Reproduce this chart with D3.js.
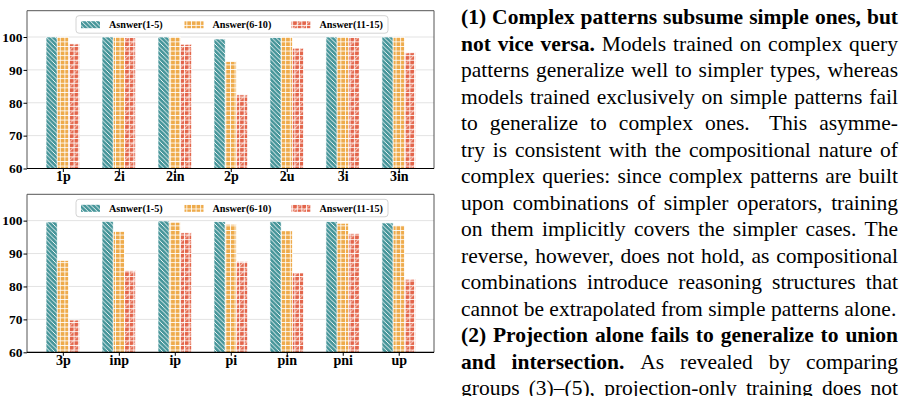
<!DOCTYPE html>
<html>
<head>
<meta charset="utf-8">
<script src="https://cdn.jsdelivr.net/npm/d3@7"></script>
<style>
  body { margin: 0; background: #fff; }
  svg { display: block; }
</style>
</head>
<body>
<div id="chart-area"></div>
<script>
// Figure size
var width = 908,
	height = 396;

// Data
var seriesNames = ["Asnwer(1-5)", "Answer(6-10)", "Answer(11-15)"];
var topCategories = ["1p", "2i", "2in", "2p", "2u", "3i", "3in"];
var topAns1 = [100, 100, 100, 99.4, 99.8, 100, 100];
var topAns2 = [100, 100, 100, 92.5, 100, 100, 100];
var topAns3 = [97.9, 99.8, 97.8, 82.4, 96.6, 99.8, 95.2];
var bottomCategories = ["3p", "inp", "ip", "pi", "pin", "pni", "up"];
var bottomAns1 = [99.6, 99.8, 99.9, 99.7, 99.8, 99.7, 99.3];
var bottomAns2 = [87.9, 96.7, 99.5, 98.9, 96.9, 99.2, 98.5];
var bottomAns3 = [69.8, 84.8, 96.3, 87.6, 84.1, 96.1, 82.2];
var yTicks = [60, 70, 80, 90, 100];

// Paragraph text on the right, one entry per printed line
var textLines = [
	[{t: "(1) Complex patterns subsume simple ones, but", b: true}],
	[{t: "not vice versa.", b: true}, {t: "Models trained on complex query", b: false}],
	[{t: "patterns generalize well to simpler types, whereas", b: false}],
	[{t: "models trained exclusively on simple patterns fail", b: false}],
	[{t: "to generalize to complex ones.  This asymme-", b: false}],
	[{t: "try is consistent with the compositional nature of", b: false}],
	[{t: "complex queries: since complex patterns are built", b: false}],
	[{t: "upon combinations of simpler operators, training", b: false}],
	[{t: "on them implicitly covers the simpler cases. The", b: false}],
	[{t: "reverse, however, does not hold, as compositional", b: false}],
	[{t: "combinations introduce reasoning structures that", b: false}],
	[{t: "cannot be extrapolated from simple patterns alone.", b: false, last: true}],
	[{t: "(2) Projection alone fails to generalize to union", b: true}],
	[{t: "and intersection.", b: true}, {t: "As revealed by comparing", b: false}],
	[{t: "groups (3)\u2013(5), projection-only training does not", b: false}]
];

var colors = ["#47969a", "#eeab4c", "#e3654b"];
var serif = "'Liberation Serif', 'Times New Roman', serif";

var svg = d3.select("#chart-area").append("svg")
	.attr("width", width)
	.attr("height", height);

// hatch patterns
var defs = svg.append("defs");

var p0 = defs.append("pattern").attr("id", "hatch0")
	.attr("patternUnits", "userSpaceOnUse").attr("width", 4.5).attr("height", 4.5);
p0.append("rect").attr("width", 4.5).attr("height", 4.5).attr("fill", colors[0]);
p0.append("path").attr("d", "M0,0L4.5,4.5M-1,3.5L1,5.5M3.5,-1L5.5,1")
	.attr("stroke", "#fff").attr("stroke-width", 0.9);

var p1 = defs.append("pattern").attr("id", "hatch1")
	.attr("patternUnits", "userSpaceOnUse").attr("width", 4.6).attr("height", 4.6);
p1.append("rect").attr("width", 4.6).attr("height", 4.6).attr("fill", colors[1]);
p1.append("path").attr("d", "M0.4,0V4.6M0,0.4H4.6")
	.attr("stroke", "#fff").attr("stroke-width", 0.9);

var p2 = defs.append("pattern").attr("id", "hatch2")
	.attr("patternUnits", "userSpaceOnUse").attr("width", 9.2).attr("height", 9.2);
p2.append("rect").attr("width", 9.2).attr("height", 9.2).attr("fill", colors[2]);
p2.append("path").attr("d", "M0,9.2L9.2,0M-1,1L1,-1M8.2,10.2L10.2,8.2")
	.attr("stroke", "#f7c6b8").attr("stroke-width", 1);
p2.append("path").attr("d", "M0.4,0V9.2M5,0V9.2M0,0.4H9.2M0,5H9.2")
	.attr("stroke", "#fff").attr("stroke-width", 0.9);

var drawPanel = function(categories, series, top, bottom) {
	var left = 27, right = 434;

	var x = d3.scaleLinear().domain([-0.64, 6.63]).range([left, right]);
	var y = d3.scaleLinear().domain([60, 108]).range([bottom, top]);
	var offset = d3.scaleBand().domain(d3.range(series.length)).range([-0.3, 0.3]);

	var g = svg.append("g");

	// grid
	g.selectAll(".grid").data(yTicks).enter().append("line")
		.attr("x1", left).attr("x2", right)
		.attr("y1", d => y(d)).attr("y2", d => y(d))
		.attr("stroke", "#e3e3e3").attr("stroke-width", 1);

	// bars
	series.forEach(function(values, j) {
		g.selectAll(".bar" + j).data(values).enter().append("rect")
			.attr("x", (d, i) => x(i + offset(j)))
			.attr("width", x(offset.bandwidth()) - x(0))
			.attr("y", d => y(d))
			.attr("height", d => y(60) - y(d))
			.attr("fill", "url(#hatch" + j + ")")
			.attr("stroke", "#fff").attr("stroke-width", 0.7);
	});

	// spines
	g.append("path")
		.attr("d", "M" + left + "," + bottom + "V" + top + "H" + right + "V" + bottom)
		.attr("fill", "none").attr("stroke", "#555").attr("stroke-width", 1);

	var xAxis = d3.axisBottom(x)
		.tickValues(d3.range(categories.length))
		.tickFormat(i => categories[i])
		.tickSize(3.5).tickSizeOuter(0);
	var xg = g.append("g").attr("transform", "translate(0," + bottom + ")").call(xAxis);
	xg.select(".domain").attr("d", "M" + left + ",0H" + right).attr("stroke", "#000").attr("stroke-width", 1.2);
	xg.selectAll("text").attr("font-family", serif).attr("font-weight", "bold")
		.attr("font-size", 14).attr("fill", "#000").attr("y", 3).attr("dy", "0.71em");

	var yAxis = d3.axisLeft(y).tickValues(yTicks).tickSize(3.5).tickSizeOuter(0);
	var yg = g.append("g").attr("transform", "translate(" + left + ",0)").call(yAxis);
	yg.select(".domain").remove();
	yg.selectAll("text").attr("font-family", serif).attr("font-weight", "bold")
		.attr("font-size", 13.5).attr("fill", "#000").attr("x", -4.5);

	// legend
	var lg = g.append("g").attr("transform", "translate(76," + (top + 5) + ")");
	lg.append("rect").attr("width", 312).attr("height", 17.5).attr("rx", 3)
		.attr("fill", "#fff").attr("fill-opacity", 0.85)
		.attr("stroke", "#d4d4d4").attr("stroke-width", 1);
	var entryX = [5, 108.5, 215.5];
	seriesNames.forEach(function(name, j) {
		lg.append("rect").attr("x", entryX[j]).attr("y", 5.5)
			.attr("width", 19).attr("height", 7)
			.attr("fill", "url(#hatch" + j + ")");
		lg.append("text").attr("x", entryX[j] + 28).attr("y", 12.5)
			.attr("font-family", serif).attr("font-weight", "bold")
			.attr("font-size", 10.2).text(name);
	});
};

drawPanel(topCategories, [topAns1, topAns2, topAns3], 10.7, 168.5);
drawPanel(bottomCategories, [bottomAns1, bottomAns2, bottomAns3], 194.3, 352.3);

// justified paragraph text
var textLeft = 461, textRight = 898, fontSize = 21.5, lineGap = 26.5, firstBase = 24;
var tg = svg.append("g").attr("font-family", serif).attr("font-size", fontSize).attr("fill", "#000");
var measure = tg.append("text").attr("x", -1000).attr("y", -1000);
var wordWidth = function(w, bold) {
	measure.attr("font-weight", bold ? "bold" : "normal").text(w);
	return measure.node().getComputedTextLength();
};

textLines.forEach(function(segments, li) {
	var words = [];
	var isLast = false;
	segments.forEach(function(s) {
		if (s.last) isLast = true;
		s.t.split(/( +)/).forEach(function(w) {
			if (w.trim() === "") {
				if (words.length) words[words.length - 1].gap = w.length > 1 ? 1.6 : 1;
			} else {
				words.push({t: w, b: s.b, w: wordWidth(w, s.b), gap: 1});
			}
		});
	});
	var total = d3.sum(words, d => d.w);
	var gapWeight = d3.sum(words.slice(0, -1), d => d.gap);
	var unit = isLast ? fontSize * 0.25 : (textRight - textLeft - total) / gapWeight;
	var cx = textLeft;
	var base = firstBase + li * lineGap;
	words.forEach(function(d) {
		tg.append("text").attr("x", cx).attr("y", base)
			.attr("font-weight", d.b ? "bold" : "normal").text(d.t);
		cx += d.w + d.gap * unit;
	});
});
measure.remove();
</script>
</body>
</html>
